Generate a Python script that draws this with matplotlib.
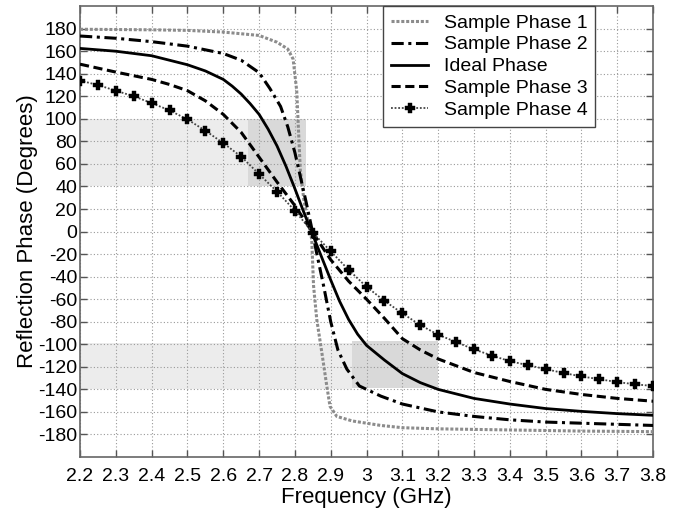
import matplotlib
matplotlib.use("Agg")
import matplotlib.pyplot as plt
from matplotlib.patches import Rectangle

plt.rcParams['font.family'] = ['Liberation Sans', 'DejaVu Sans']
plt.rcParams['axes.unicode_minus'] = False

# Sample Phase 1 (steepest)
f1 = [2.2, 2.4, 2.5, 2.6, 2.7, 2.75, 2.78, 2.795, 2.805, 2.81, 2.815, 2.825, 2.837,
      2.847, 2.852, 2.861, 2.875, 2.889, 2.898, 2.917, 2.96, 3.04, 3.1, 3.2, 3.4, 3.6, 3.8]
s1 = [179.5, 179, 178.5, 177, 174, 168, 162, 153, 125, 90, 55, 28, 8,
      -7, -48, -78, -107, -137, -155, -164, -168, -172, -174, -175, -176, -177, -177.5]

# Sample Phase 2
f2 = [2.2, 2.3, 2.4, 2.5, 2.6, 2.65, 2.7, 2.73, 2.76, 2.78, 2.8, 2.815, 2.83, 2.845,
      2.86, 2.88, 2.9, 2.92, 2.945, 2.98, 3.04, 3.1, 3.2, 3.3, 3.4, 3.5, 3.6, 3.7, 3.8]
s2 = [173.5, 171.5, 168.5, 164.5, 158, 152, 141, 127, 111, 93, 70, 49, 28, 6,
      -18, -48, -80, -105, -122, -137, -146, -153, -160, -164, -167, -169, -170, -171, -172]

# Ideal Phase
f_ideal = [2.2, 2.3, 2.4, 2.5, 2.55, 2.6, 2.625, 2.65, 2.675, 2.7, 2.725, 2.75, 2.775, 2.8,
           2.825, 2.85, 2.875, 2.9, 2.925, 2.95, 2.975, 3.0, 3.05, 3.1, 3.15, 3.2, 3.3,
           3.4, 3.5, 3.6, 3.7, 3.8]
ideal = [162.5, 160, 156, 148, 142.5, 135, 129, 122, 113.5, 104, 91, 76, 58, 38,
         17, -3, -23, -43, -62, -78, -91, -101, -114, -126, -134, -140, -148,
         -153, -157, -159.5, -161.5, -163]

# Sample Phase 3
f3 = [2.2, 2.3, 2.4, 2.45, 2.5, 2.55, 2.6, 2.65, 2.7, 2.75, 2.8, 2.85, 2.9, 2.95, 3.0,
      3.05, 3.1, 3.15, 3.2, 3.3, 3.4, 3.5, 3.6, 3.7, 3.8]
s3 = [148.5, 141.5, 135, 130.5, 125, 116, 104, 88, 66, 44, 23, -1, -25, -44, -60,
      -77, -95, -105, -113, -125, -133, -140, -144.5, -148, -150.5]

# Sample Phase 4 (markers every 0.05 GHz)
f4 = [2.2, 2.25, 2.3, 2.35, 2.4, 2.45, 2.5, 2.55, 2.6, 2.65, 2.7, 2.75, 2.8, 2.85,
      2.9, 2.95, 3.0, 3.05, 3.1, 3.15, 3.2, 3.25, 3.3, 3.35, 3.4, 3.45, 3.5, 3.55,
      3.6, 3.65, 3.7, 3.75, 3.8]
s4 = [134, 130, 125, 120, 114, 107.5, 99.5, 89.5, 78.5, 66.5, 51, 35.5, 18.5, -1,
      -17.5, -34, -49, -61.5, -72.5, -83, -91.5, -98, -104.5, -110, -115, -118.5, -122, -125.5,
      -128.5, -131, -133.5, -135.5, -137]

# shaded bands: (x0, x1, y0, y1, colour)
bands = [
    (2.2, 2.83, 40, 100, '#ececec'),
    (2.67, 2.83, 40, 100, '#d9d9d9'),
    (2.2, 2.96, -140, -99, '#ececec'),
    (2.96, 3.2, -139, -97, '#d9d9d9'),
]

xticks = [2.2, 2.3, 2.4, 2.5, 2.6, 2.7, 2.8, 2.9, 3.0, 3.1, 3.2, 3.3, 3.4, 3.5, 3.6, 3.7, 3.8]
xticklabels = ['2.2', '2.3', '2.4', '2.5', '2.6', '2.7', '2.8', '2.9', '3', '3.1', '3.2',
               '3.3', '3.4', '3.5', '3.6', '3.7', '3.8']
yticks = list(range(-180, 181, 20))

fig = plt.figure(figsize=(6.81, 5.12), dpi=100)
ax = fig.add_axes([0.1175, 0.1074, 0.8415, 0.8806])

for x0, x1, y0, y1, c in bands:
    ax.add_patch(Rectangle((x0, y0), x1 - x0, y1 - y0, facecolor=c, edgecolor='none', zorder=1))

ax.plot(f1, s1, color='#8c8c8c', linestyle=(0, (1, 0.6)), linewidth=2.2, label='Sample Phase 1', zorder=3)
ax.plot(f2, s2, color='black', linestyle=(0, (4, 1.5, 1, 1.5)), linewidth=2.2, label='Sample Phase 2', zorder=3)
ax.plot(f_ideal, ideal, color='black', linestyle='-', linewidth=2.0, label='Ideal Phase', zorder=3)
ax.plot(f3, s3, color='black', linestyle=(0, (3, 1.5)), linewidth=2.2, label='Sample Phase 3', zorder=3)
ax.plot(f4, s4, color='#444444', linestyle=(0, (1, 1)), linewidth=1.3, marker='P',
        markersize=7, markerfacecolor='black', markeredgecolor='black', markeredgewidth=0.3,
        label='Sample Phase 4', zorder=3)

ax.set_xlim(2.2, 3.8)
ax.set_ylim(-200, 200)
ax.set_xticks(xticks)
ax.set_xticklabels(xticklabels)
ax.set_yticks(yticks)
ax.tick_params(direction='in', top=True, right=True, length=5, width=1, color='#555555',
               labelsize=14)
ax.tick_params(axis='x', pad=8)
ax.tick_params(axis='y', pad=2)
ax.grid(True, linestyle=(0, (1, 2)), color='#999999', linewidth=0.8)
for s in ax.spines.values():
    s.set_color('#666666')
    s.set_linewidth(1.2)

ax.set_xlabel('Frequency (GHz)', fontsize=16, labelpad=1)
ax.set_ylabel('Reflection Phase (Degrees)', fontsize=16, labelpad=0)

leg = ax.legend(loc='upper right', bbox_to_anchor=(0.899, 1.0), borderaxespad=0,
                fontsize=14, handlelength=1.9, handletextpad=0.8, labelspacing=0.22,
                borderpad=0.4, fancybox=False, framealpha=1, edgecolor='#444444')
leg.get_frame().set_linewidth(1.0)

plt.savefig('out.png', dpi=100)
